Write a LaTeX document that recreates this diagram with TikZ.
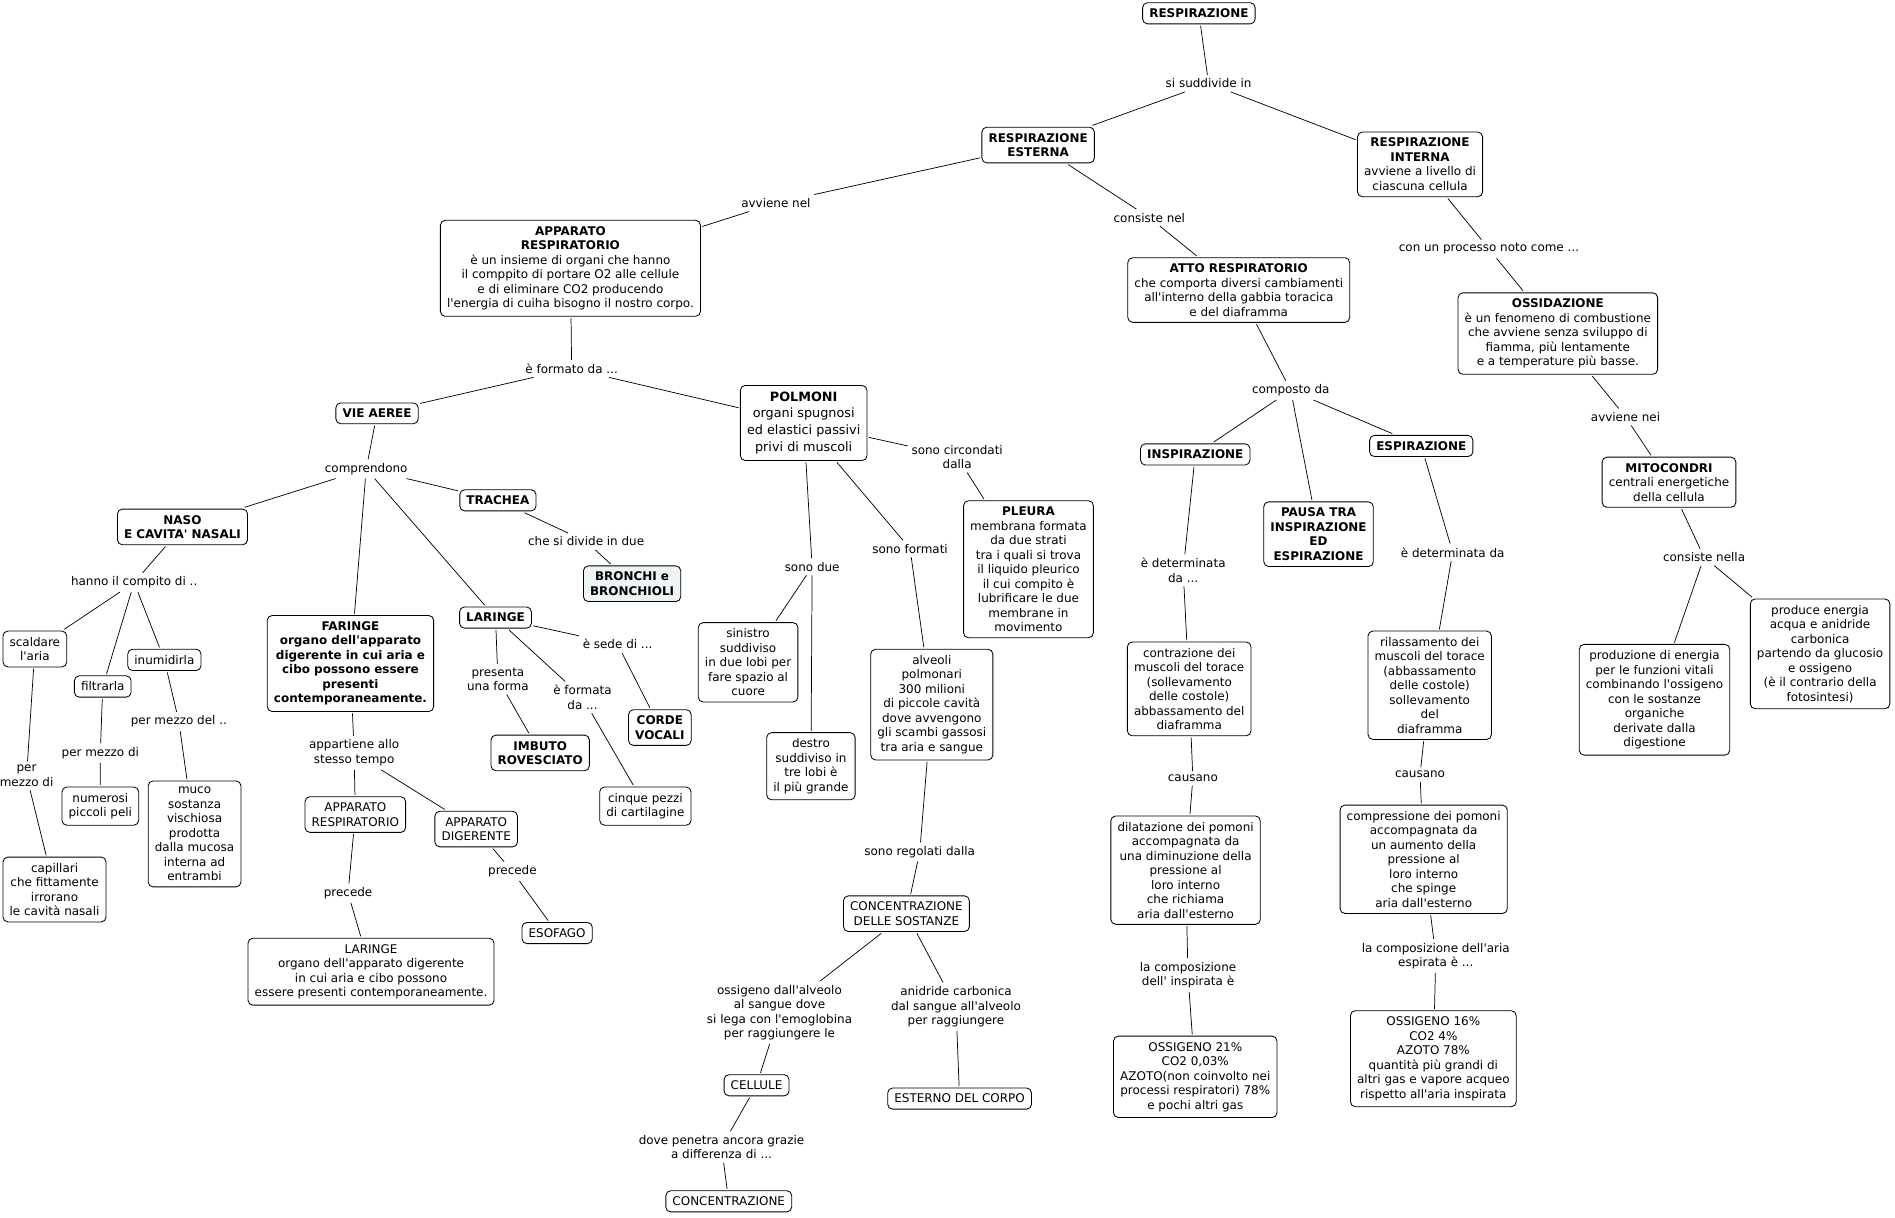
\documentclass[tikz,border=0pt]{standalone}
\usepackage{fontspec}
\setmainfont{DejaVu Sans}
\newfontfamily\mapfont{DejaVu Sans}
\definecolor{bronchifill}{HTML}{EEF4F6}
\tikzset{
  cbox/.style={draw, rounded corners=4pt, line width=0.7pt, align=center, inner xsep=5.5pt, inner ysep=5pt, outer sep=1.5pt, font=\mapfont\fontsize{9.9}{12}\selectfont},
  bbox/.style={cbox, font=\mapfont\fontsize{9.9}{12}\selectfont\bfseries},
  lbl/.style={align=center, inner sep=3pt, font=\mapfont\fontsize{9.9}{12}\selectfont},
  link/.style={line width=0.6pt}
}
\begin{document}
\begin{tikzpicture}[x=1pt,y=1pt,yscale=-1]
        \useasboundingbox (0,0) rectangle (1568,1007);
        %Shape: Rounded Rect (top of the map)
        \node [bbox] (resp) at (992,11) {RESPIRAZIONE};
        \node [bbox] (est) at (859,120) {RESPIRAZIONE\\ESTERNA};
        \node [cbox] (int) at (1175,136) {\textbf{RESPIRAZIONE}\\\textbf{INTERNA}\\avviene a livello di\\ciascuna cellula};
        \node [cbox] (app) at (472,222) {\textbf{APPARATO}\\\textbf{RESPIRATORIO}\\è un insieme di organi che hanno\\il comppito di portare O2 alle cellule\\e di eliminare CO2 producendo\\l'energia di cuiha bisogno il nostro corpo.};
        \node [cbox] (atto) at (1025,240) {\textbf{ATTO RESPIRATORIO}\\che comporta diversi cambiamenti\\all'interno della gabbia toracica\\e del diaframma};
        \node [cbox] (ossid) at (1289,276) {\textbf{OSSIDAZIONE}\\è un fenomeno di combustione\\che avviene senza sviluppo di\\fiamma, più lentamente\\e a temperature più basse.};
        %Shape: Rounded Rect (second level)
        \node [bbox] (vie) at (312,342) {VIE AEREE};
        \node [cbox, font=\mapfont\fontsize{10.6}{14}\selectfont] (polm) at (665,350) {\textbf{POLMONI}\\organi spugnosi\\ed elastici passivi\\privi di muscoli};
        \node [bbox] (insp) at (989,376) {INSPIRAZIONE};
        \node [bbox] (pausa) at (1091,442) {PAUSA TRA\\INSPIRAZIONE\\ED\\ESPIRAZIONE};
        \node [bbox] (esp) at (1176,369) {ESPIRAZIONE};
        \node [cbox] (mito) at (1381,399) {\textbf{MITOCONDRI}\\centrali energetiche\\della cellula};
        \node [bbox] (trachea) at (412,414) {TRACHEA};
        \node [bbox] (naso) at (151,436) {NASO\\E CAVITA' NASALI};
        \node [cbox] (pleura) at (851,471) {\textbf{PLEURA}\\membrana formata\\da due strati\\tra i quali si trova\\il liquido pleurico\\il cui compito è\\lubrificare le due\\membrane in\\movimento};
        \node [bbox, fill=bronchifill] (bronchi) at (523,483) {BRONCHI e\\BRONCHIOLI};
        %Shape: Rounded Rect (third level)
        \node [cbox, anchor=west] (scald) at (1,537) {scaldare\\l'aria};
        \node [bbox] (faringe) at (290,549) {FARINGE\\organo dell'apparato\\digerente in cui aria e\\cibo possono essere\\presenti\\contemporaneamente.};
        \node [bbox] (laringe) at (410,511) {LARINGE};
        \node [cbox] (inumid) at (136,546) {inumidirla};
        \node [cbox] (filtr) at (85,568) {filtrarla};
        \node [cbox] (sinistro) at (619,548) {sinistro\\suddiviso\\in due lobi per\\fare spazio al\\cuore};
        \node [cbox] (alveoli) at (771,583) {alveoli\\polmonari\\300 milioni\\di piccole cavità\\dove avvengono\\gli scambi gassosi\\tra aria e sangue};
        \node [cbox] (contraz) at (984,570) {contrazione dei\\muscoli del torace\\(sollevamento\\delle costole)\\abbassamento del\\diaframma};
        \node [cbox] (rilass) at (1183,567) {rilassamento dei\\muscoli del torace\\(abbassamento\\delle costole)\\sollevamento\\del\\diaframma};
        \node [cbox] (produz) at (1369,579) {produzione di energia\\per le funzioni vitali\\combinando l'ossigeno\\con le sostanze\\organiche\\derivate dalla\\digestione};
        \node [cbox] (produce) at (1506,541) {produce energia\\acqua e anidride\\carbonica\\partendo da glucosio\\e ossigeno\\(è il contrario della\\fotosintesi)};
        \node [bbox] (corde) at (546,602) {CORDE\\VOCALI};
        \node [bbox] (imbuto) at (447,623) {IMBUTO\\ROVESCIATO};
        \node [cbox] (destro) at (671,634) {destro\\suddiviso in\\tre lobi è\\il più grande};
        \node [cbox] (cinque) at (534,667) {cinque pezzi\\di cartilagine};
        \node [cbox] (peli) at (83,667) {numerosi\\piccoli peli};
        \node [cbox] (muco) at (161,690) {muco\\sostanza\\vischiosa\\prodotta\\dalla mucosa\\interna ad\\entrambi};
        \node [cbox] (appresp) at (294,674) {APPARATO\\RESPIRATORIO};
        \node [cbox] (appdig) at (394,686) {APPARATO\\DIGERENTE};
        %Shape: Rounded Rect (lower part)
        \node [cbox] (dilat) at (981,720) {dilatazione dei pomoni\\accompagnata da\\una diminuzione della\\pressione al\\loro interno\\che richiama\\aria dall'esterno};
        \node [cbox] (compr) at (1178,711) {compressione dei pomoni\\accompagnata da\\un aumento della\\pressione al\\loro interno\\che spinge\\aria dall'esterno};
        \node [cbox, anchor=west] (capill) at (1,736) {capillari\\che fittamente\\irrorano\\le cavità nasali};
        \node [cbox] (concsost) at (750,756) {CONCENTRAZIONE\\DELLE SOSTANZE};
        \node [cbox] (esofago) at (461,772) {ESOFAGO};
        \node [cbox] (laringeorg) at (307,804) {LARINGE\\organo dell'apparato digerente\\in cui aria e cibo possono\\essere presenti contemporaneamente.};
        \node [cbox] (oss16) at (1186,876) {OSSIGENO 16\%\\CO2 4\%\\AZOTO 78\%\\quantità più grandi di\\altri gas e vapore acqueo\\rispetto all'aria inspirata};
        \node [cbox] (oss21) at (989,891) {OSSIGENO 21\%\\CO2 0,03\%\\AZOTO(non coinvolto nei\\processi respiratori) 78\%\\e pochi altri gas};
        \node [cbox] (cellule) at (626,898) {CELLULE};
        \node [cbox] (esterno) at (794,909) {ESTERNO DEL CORPO};
        \node [cbox] (conc) at (603,994) {CONCENTRAZIONE};
        % Text Node
        \node [lbl] (lsudd) at (1000,69) {si suddivide in};
        \node [lbl] (lavvnel) at (642,168) {avviene nel};
        \node [lbl] (lconsnel) at (951,180) {consiste nel};
        \node [lbl] (lprocesso) at (1232,206) {con un processo noto come ...};
        \node [lbl] (lformato) at (473,305) {è formato da ...};
        \node [lbl] (lcomposto) at (1068,323) {composto da};
        \node [lbl] (lavvnei) at (1345,345) {avviene nei};
        \node [lbl] (lcompr) at (303,388) {comprendono};
        \node [lbl] (lcircond) at (792,378) {sono circondati\\dalla};
        \node [lbl] (ldivide) at (485,448) {che si divide in due};
        \node [lbl] (lcompito) at (111,482) {hanno il compito di ..};
        \node [lbl] (ldue) at (672,469) {sono due};
        \node [lbl] (lformati) at (753,454) {sono formati};
        \node [lbl] (ldetinsp) at (979,472) {è determinata\\da ...};
        \node [lbl] (ldetesp) at (1202,457) {è determinata da};
        \node [lbl] (lconsnella) at (1410,461) {consiste nella};
        \node [lbl] (lforma) at (412,562) {presenta\\una forma};
        \node [lbl] (lformata) at (482,577) {è formata\\da ...};
        \node [lbl] (lsede) at (511,533) {è sede di ...};
        \node [lbl] (lmezzodel) at (148,597) {per mezzo del ..};
        \node [lbl] (lappart) at (293,623) {appartiene allo\\stesso tempo};
        \node [lbl] (lmezzo) at (83,623) {per mezzo di};
        \node [lbl] (lmezzob) at (22,642) {per\\mezzo di};
        \node [lbl] (lcausinsp) at (987,644) {causano};
        \node [lbl] (lcausesp) at (1175,641) {causano};
        \node [lbl] (lregol) at (761,705) {sono regolati dalla};
        \node [lbl] (lprecdig) at (424,721) {precede};
        \node [lbl] (lprecresp) at (288,739) {precede};
        \node [lbl] (lcompinsp) at (983,807) {la composizione\\dell' inspirata è};
        \node [lbl] (lcompesp) at (1188,791) {la composizione dell'aria\\espirata è ...};
        \node [lbl] (lossig) at (645,838) {ossigeno dall'alveolo\\al sangue dove\\si lega con l'emoglobina\\per raggiungere le};
        \node [lbl] (lanid) at (791,833) {anidride carbonica\\dal sangue all'alveolo\\per raggiungere};
        \node [lbl] (lpenetra) at (597,949) {dove penetra ancora grazie\\a differenza di ...};
        %Straight Lines
        \draw [link] (resp) -- (lsudd);
        \draw [link] (lsudd) -- (est);
        \draw [link] (lsudd) -- (int);
        \draw [link] (est) -- (lavvnel) -- (app);
        \draw [link] (est) -- (lconsnel) -- (atto);
        \draw [link] (int) -- (lprocesso) -- (ossid);
        \draw [link] (app) -- (lformato);
        \draw [link] (lformato) -- (vie);
        \draw [link] (lformato) -- (polm);
        \draw [link] (atto) -- (lcomposto);
        \draw [link] (lcomposto) -- (insp);
        \draw [link] (lcomposto) -- (pausa);
        \draw [link] (lcomposto) -- (esp);
        \draw [link] (ossid) -- (lavvnei) -- (mito);
        \draw [link] (vie) -- (lcompr);
        \draw [link] (lcompr) -- (naso);
        \draw [link] (lcompr) -- (faringe);
        \draw [link] (lcompr) -- (laringe);
        \draw [link] (lcompr) -- (trachea);
        \draw [link] (polm) -- (lcircond) -- (pleura);
        \draw [link] (polm) -- (ldue);
        \draw [link] (ldue) -- (sinistro);
        \draw [link] (ldue) -- (destro);
        \draw [link] (polm) -- (lformati) -- (alveoli);
        \draw [link] (insp) -- (ldetinsp) -- (contraz);
        \draw [link] (esp) -- (ldetesp) -- (rilass);
        \draw [link] (mito) -- (lconsnella);
        \draw [link] (lconsnella) -- (produz);
        \draw [link] (lconsnella) -- (produce);
        \draw [link] (trachea) -- (ldivide) -- (bronchi);
        \draw [link] (naso) -- (lcompito);
        \draw [link] (lcompito) -- (scald);
        \draw [link] (lcompito) -- (filtr);
        \draw [link] (lcompito) -- (inumid);
        \draw [link] (scald) -- (lmezzob) -- (capill);
        \draw [link] (filtr) -- (lmezzo) -- (peli);
        \draw [link] (inumid) -- (lmezzodel) -- (muco);
        \draw [link] (faringe) -- (lappart);
        \draw [link] (lappart) -- (appresp);
        \draw [link] (lappart) -- (appdig);
        \draw [link] (appresp) -- (lprecresp) -- (laringeorg);
        \draw [link] (appdig) -- (lprecdig) -- (esofago);
        \draw [link] (laringe) -- (lforma) -- (imbuto);
        \draw [link] (laringe) -- (lformata) -- (cinque);
        \draw [link] (laringe) -- (lsede) -- (corde);
        \draw [link] (alveoli) -- (lregol) -- (concsost);
        \draw [link] (concsost) -- (lossig) -- (cellule);
        \draw [link] (concsost) -- (lanid) -- (esterno);
        \draw [link] (cellule) -- (lpenetra) -- (conc);
        \draw [link] (contraz) -- (lcausinsp) -- (dilat);
        \draw [link] (rilass) -- (lcausesp) -- (compr);
        \draw [link] (dilat) -- (lcompinsp) -- (oss21);
        \draw [link] (compr) -- (lcompesp) -- (oss16);
\end{tikzpicture}
\end{document}
